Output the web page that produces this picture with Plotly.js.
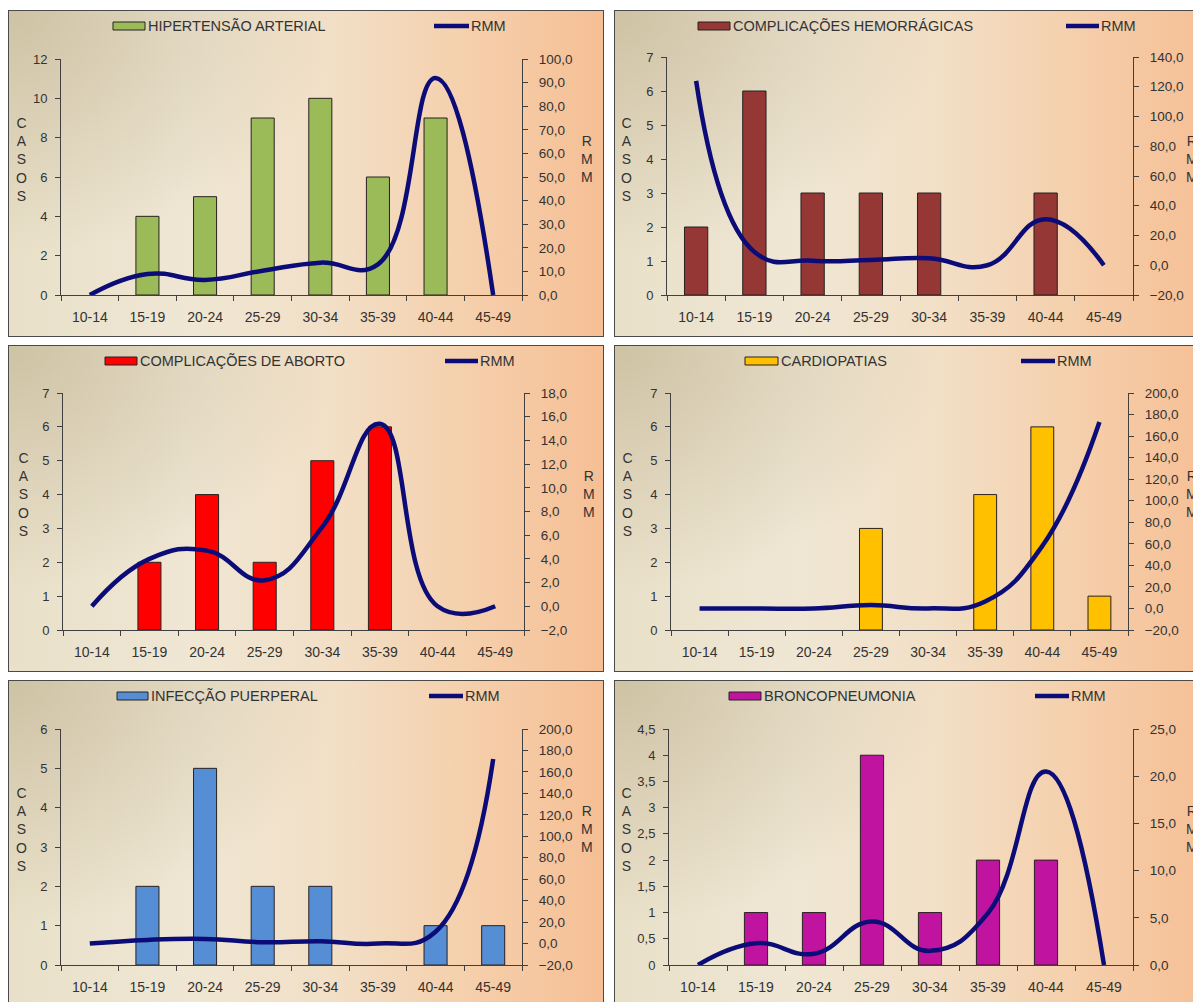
<!DOCTYPE html>
<html>
<head>
<meta charset="utf-8">
<script src="https://cdn.plot.ly/plotly-3.0.1.min.js"></script>
<style>
html,body{margin:0;padding:0;background:#ffffff;width:1193px;height:1002px;overflow:hidden;position:relative;}
.panel{position:absolute;width:596px;height:327px;box-sizing:border-box;border:1px solid #4a4a4a;
  background:
    radial-gradient(ellipse 55% 75% at 0% 0%, rgba(185,170,135,0.55) 0%, rgba(185,170,135,0) 100%),
    linear-gradient(90deg, #e9e0c9 0%, #efe7d4 30%, #f2dfc6 55%, #f5cfab 78%, #f6bf95 100%);
  overflow:hidden;}
.plot{position:absolute;left:-1px;top:-1px;width:596px;height:327px;}
</style>
</head>
<body>
<script>
// ---- data ----
const categories = ['10-14','15-19','20-24','25-29','30-34','35-39','40-44','45-49'];

const hipertensaoCasos = [0, 4, 5, 9, 10, 6, 9, 0];
const hipertensaoRmm   = [0, 8.9, 6.4, 10.3, 13.7, 13, 92, 0];

const hemorragicasCasos = [2, 6, 3, 3, 3, 0, 3, 0];
const hemorragicasRmm   = [124, 9, 3.1, 3.6, 4.7, 0, 31, 0];

const abortoCasos = [0, 2, 4, 2, 5, 6, 0, 0];
const abortoRmm   = [0, 4.0, 4.7, 2.2, 6.7, 15.4, 0, 0];

const cardiopatiasCasos = [0, 0, 0, 3, 0, 4, 6, 1];
const cardiopatiasRmm   = [0, 0, 0, 3.1, 0, 6.5, 58, 173];

const infeccaoCasos = [0, 2, 5, 2, 2, 0, 1, 1];
const infeccaoRmm   = [0, 3.4, 4.3, 1.2, 2.2, 0, 11, 172];

const broncoCasos = [0, 1, 1, 4, 1, 2, 2, 0];
const broncoRmm   = [0, 2.3, 1.2, 4.6, 1.5, 5.5, 20.5, 0];

const seriesNames = ['HIPERTENSÃO ARTERIAL','COMPLICAÇÕES HEMORRÁGICAS','COMPLICAÇÕES DE ABORTO','CARDIOPATIAS','INFECÇÃO PUERPERAL','BRONCOPNEUMONIA'];
const lineName = 'RMM';
const leftTitle = 'CASOS';
const rightTitle = 'RMM';

// ---- panel configuration (positions / styles) ----
const W = 596, H = 327;
const panels = [
  {left:8, top:10, name:seriesNames[0], color:'#9bbb59', casos:hipertensaoCasos, rmm:hipertensaoRmm,
   y:[0,12,2], y2:[0,100,10], m:{l:53,r:82,t:49,b:42}, lb:[105,137], ll:[426,461], cx:13, rx:579},
  {left:614, top:10, name:seriesNames[1], color:'#953735', casos:hemorragicasCasos, rmm:hemorragicasRmm,
   y:[0,7,1], y2:[-20,140,20], m:{l:53,r:77,t:47,b:42}, lb:[84,116], ll:[452,485], cx:12, rx:578},
  {left:8, top:345, name:seriesNames[2], color:'#ff0000', casos:abortoCasos, rmm:abortoRmm,
   y:[0,7,1], y2:[-2,18,2], m:{l:55,r:80,t:48,b:42}, lb:[97,129], ll:[437,470], cx:15, rx:581},
  {left:614, top:345, name:seriesNames[3], color:'#ffc000', casos:cardiopatiasCasos, rmm:cardiopatiasRmm,
   y:[0,7,1], y2:[-20,200,20], m:{l:57,r:82,t:48,b:42}, lb:[131,164], ll:[407,441], cx:13, rx:578},
  {left:8, top:680, name:seriesNames[4], color:'#558ed5', casos:infeccaoCasos, rmm:infeccaoRmm,
   y:[0,6,1], y2:[-20,200,20], m:{l:53,r:82,t:49,b:42}, lb:[109,140], ll:[421,455], cx:13, rx:579},
  {left:614, top:680, name:seriesNames[5], color:'#c0139f', casos:broncoCasos, rmm:broncoRmm,
   y:[0,4.5,0.5], y2:[0,25,5], m:{l:55,r:77,t:49,b:42}, lb:[115,147], ll:[421,455], cx:12, rx:578}
];

const FONT = '"Liberation Sans", Arial, sans-serif';
const TXT = '#333333';
const AX = '#404040';
const NAVY = '#0c0c78';

panels.forEach((p, i) => {
  const box = document.createElement('div');
  box.className = 'panel';
  box.style.left = p.left + 'px';
  box.style.top = p.top + 'px';
  const div = document.createElement('div');
  div.className = 'plot';
  div.id = 'plot' + i;
  box.appendChild(div);
  document.body.appendChild(box);

  const pw = W - p.m.l - p.m.r, ph = H - p.m.t - p.m.b;
  const fx = px => (px - p.m.l) / pw;
  const fy = py => (H - p.m.b - py) / ph;
  const legY = fy(16);

  const traces = [
    {type:'bar', x:categories, y:p.casos, name:p.name,
     marker:{color:p.color, line:{color:'#2a2020', width:p.casos.map(v => v === 0 ? 0 : 1)}}, hoverinfo:'skip'},
    {type:'scatter', mode:'lines', x:categories, y:p.rmm, name:lineName, yaxis:'y2',
     line:{color:NAVY, width:4.5, shape:'spline', smoothing:1.3}, cliponaxis:false, hoverinfo:'skip'}
  ];

  const layout = {
    width:W, height:H, margin:{l:p.m.l, r:p.m.r, t:p.m.t, b:p.m.b, pad:0},
    paper_bgcolor:'rgba(0,0,0,0)', plot_bgcolor:'rgba(0,0,0,0)',
    separators:',.', showlegend:false, bargap:0.6,
    font:{family:FONT, color:TXT, size:13},
    xaxis:{type:'category', categoryorder:'array', categoryarray:categories, range:[-0.5,7.5],
      showline:true, linecolor:AX, linewidth:1, ticks:'outside', ticklen:5, tickcolor:AX,
      tickson:'boundaries', showgrid:false, zeroline:false, ticklabelstandoff:9,
      tickfont:{size:14, color:TXT, family:FONT}, fixedrange:true},
    yaxis:{range:[p.y[0], p.y[1]], dtick:p.y[2], tick0:0, showline:true, linecolor:AX, linewidth:1,
      ticks:'outside', ticklen:5, tickcolor:AX, showgrid:false, zeroline:false, ticklabelstandoff:5,
      tickfont:{size:13, color:TXT, family:FONT}, fixedrange:true},
    yaxis2:{overlaying:'y', side:'right', range:[p.y2[0], p.y2[1]], dtick:p.y2[2], tick0:0,
      tickformat:'.1f', showline:true, linecolor:AX, linewidth:1, ticks:'outside', ticklen:5,
      tickcolor:AX, showgrid:false, zeroline:false, ticklabelstandoff:8,
      tickfont:{size:13.5, color:TXT, family:FONT}, fixedrange:true},
    shapes:[
      {type:'rect', xref:'paper', yref:'paper', x0:fx(p.lb[0]), x1:fx(p.lb[1]), y0:fy(20), y1:fy(12),
       fillcolor:p.color, line:{color:'#2a2020', width:1}},
      {type:'line', xref:'paper', yref:'paper', x0:fx(p.ll[0]), x1:fx(p.ll[1]), y0:legY, y1:legY,
       line:{color:NAVY, width:4.5}}
    ],
    annotations:[
      {xref:'paper', yref:'paper', x:fx(p.lb[1]+1), y:legY, xanchor:'left', yanchor:'middle',
       text:p.name, showarrow:false, font:{size:14.5, color:TXT, family:FONT}},
      {xref:'paper', yref:'paper', x:fx(p.ll[1]), y:legY, xanchor:'left', yanchor:'middle',
       text:lineName, showarrow:false, font:{size:14.5, color:TXT, family:FONT}},
      {xref:'paper', yref:'paper', x:fx(p.cx), y:fy(149), xanchor:'center', yanchor:'middle',
       text:leftTitle.split('').join('<br>'), showarrow:false, font:{size:14, color:TXT, family:FONT}},
      {xref:'paper', yref:'paper', x:fx(p.rx), y:fy(149), xanchor:'center', yanchor:'middle',
       text:rightTitle.split('').join('<br>'), showarrow:false, font:{size:14, color:TXT, family:FONT}}
    ]
  };
  Plotly.newPlot(div, traces, layout, {staticPlot:true, displayModeBar:false});
});
</script>
</body>
</html>
